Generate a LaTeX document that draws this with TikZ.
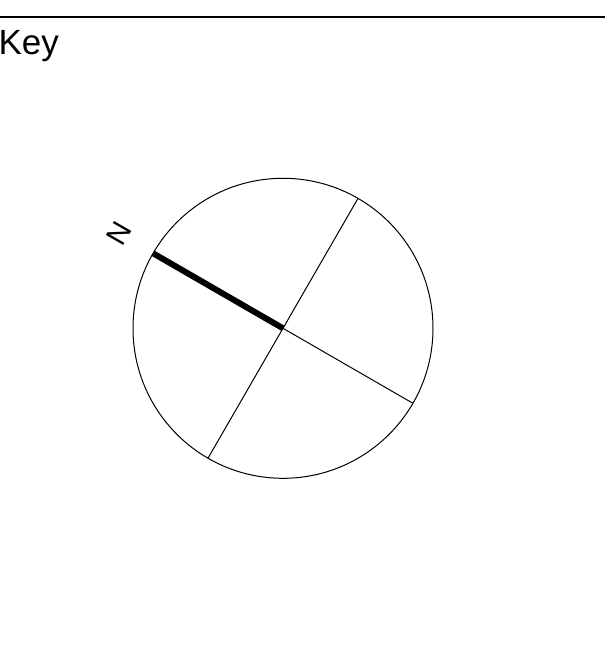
\documentclass[tikz,border=0pt]{standalone}
\usepackage{fontspec}
\setmainfont{Liberation Sans}
\usetikzlibrary{positioning, calc}

\begin{document}
\begin{tikzpicture}[
    x=1pt, y=1pt,
    dial/.style={draw, circle, line width=1pt, minimum size=300pt, inner sep=0pt, outer sep=0pt},
    spoke/.style={line width=1pt},
    north/.style={line width=6pt},
    ttl/.style={font=\fontsize{35}{40}\selectfont, inner sep=0pt, anchor=base west},
    lbl/.style={font=\fontsize{29}{32}\selectfont, inner sep=0pt},
]
\useasboundingbox (0,0) rectangle (605,651);
\draw[line width=1.8pt] (0,633.6) -- (605,633.6);
\node[ttl] (key) at (-1.6,596.7) {Key};
\node[dial] (rose) at (283,322.7) {};
\draw[spoke] (rose.60) -- (rose.240);
\draw[spoke] (rose.center) -- (rose.330);
\draw[north] (rose.150) -- (rose.center);
\node[lbl, rotate=60] (nlbl) at ($(rose.center)+(150:189)$) {N};
\end{tikzpicture}
\end{document}
